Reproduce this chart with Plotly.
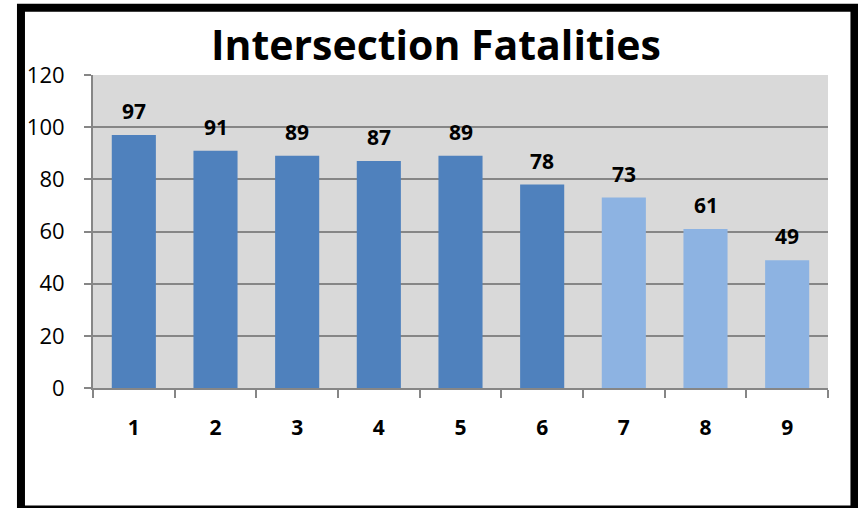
import plotly.graph_objects as go

categories = ["1", "2", "3", "4", "5", "6", "7", "8", "9"]
fatalities = [97, 91, 89, 87, 89, 78, 73, 61, 49]
bar_colors = ["#4F81BD"] * 6 + ["#8DB3E2"] * 3

fig = go.Figure()
fig.add_trace(go.Bar(x=categories, y=fatalities, marker_color=bar_colors,
                     marker_line_width=0, showlegend=False))

# value labels above the bars (category axis -> position by index)
for i, val in enumerate(fatalities):
    fig.add_annotation(x=i, y=val, text="<b>%d</b>" % val, showarrow=False,
                       yshift=24, font=dict(size=21, color="black", family="Open Sans"),
                       xref="x", yref="y")

# black frame around the whole chart
fig.add_shape(type="rect", xref="paper", yref="paper",
              x0=-0.098, x1=1.036, y0=-0.388, y1=1.215,
              line=dict(color="black", width=8), layer="above")

fig.update_layout(
    width=858, height=508,
    margin=dict(l=93, r=30, t=75, b=120),
    paper_bgcolor="white", plot_bgcolor="#D9D9D9",
    bargap=0.46,
    title=dict(text="<b>Intersection Fatalities</b>", x=0.508, xanchor="center",
               y=0.91, yanchor="middle",
               font=dict(size=41, color="black", family="Open Sans")),
    font=dict(family="Open Sans", color="black"),
)
fig.update_yaxes(range=[0, 120], dtick=20, showgrid=True, gridcolor="#868686", gridwidth=2,
                 showline=True, linecolor="#868686", linewidth=2,
                 ticks="outside", ticklen=7, tickcolor="#868686", tickwidth=2,
                 ticklabelstandoff=15,
                 tickfont=dict(size=22, color="black"), zeroline=False)
fig.update_xaxes(type="category", showgrid=False, showline=True, linecolor="#868686", linewidth=2,
                 ticks="outside", tickson="boundaries", ticklen=8, tickcolor="#868686",
                 tickwidth=2, ticklabelstandoff=20, tickfont=dict(size=21, color="black"),
                 tickprefix="<b>", ticksuffix="</b>")

fig.write_html("out.html", config={"displayModeBar": False},
               post_script="document.body.style.margin='0';")
